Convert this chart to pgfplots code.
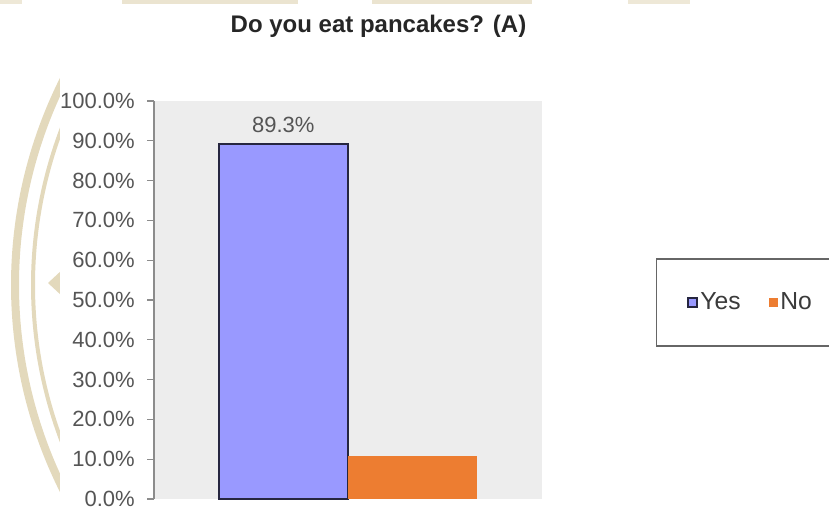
\documentclass[border=0pt]{standalone}
\usepackage{pgfplots}
\pgfplotsset{compat=1.18}
\usepackage{fontspec}
\setmainfont{Liberation Sans}

\definecolor{yesfill}{HTML}{9999FF}
\definecolor{yesedge}{HTML}{262640}
\definecolor{nofill}{HTML}{ED7D31}
\definecolor{plotbg}{HTML}{EDEDED}
\definecolor{axisgray}{HTML}{8C8C8C}
\definecolor{labelgray}{HTML}{555555}
\definecolor{legendgray}{HTML}{666666}
\definecolor{crest}{HTML}{E3D9BC}

\begin{document}
\begin{tikzpicture}
% page frame in pixel-like units (1 unit = 0.75pt, y grows downward)
\begin{scope}[x=0.75pt,y=-0.75pt]
  % faint crest of the slide background
  \draw[crest, line width=6pt] (473,285) ++(148:458) arc[start angle=148, end angle=212, radius=458];
  \draw[crest, line width=3pt] (473,285) ++(148:440) arc[start angle=148, end angle=212, radius=440];
  \fill[crest] (48,283) -- (62,270) -- (62,296) -- cycle;
  \fill[crest, opacity=0.6] (0,0) rectangle (22,4);
  \fill[crest, opacity=0.7] (122,0) rectangle (298,4);
  \fill[crest, opacity=0.7] (372,0) rectangle (532,4);
  \fill[crest, opacity=0.6] (628,0) rectangle (690,4);
  % white chart area
  \fill[white] (60,5) rectangle (829,513);
  % title
  \node[font=\bfseries\fontsize{18}{20}\selectfont, text=black!85, anchor=base, inner sep=0pt]
    at (378.5,33) {Do you eat pancakes? (A)};
\end{scope}

\begin{axis}[
  at={(115.5pt,-374.25pt)}, anchor=south west,
  width=291pt, height=298.5pt, scale only axis,
  xmin=-1.5, xmax=1.5, ymin=0, ymax=100,
  axis x line=none, axis y line*=left,
  axis background/.style={fill=plotbg},
  y axis line style={axisgray, line width=1pt},
  ytick={0,10,...,100},
  tick align=outside, major tick length=5.25pt,
  ytick style={axisgray, line width=0.9pt},
  /pgf/number format/assume math mode=true,
  yticklabel={\pgfmathprintnumber[fixed,fixed zerofill,precision=1]{\tick}\%},
  yticklabel style={anchor=east, inner sep=0pt, xshift=-9pt,
    font=\fontsize{16.5}{18}\selectfont, text=labelgray},
  legend columns=2,
  legend style={at={(1.2938,0.4937)}, anchor=west,
    draw=legendgray, line width=1pt,
    inner xsep=23pt, inner ysep=24pt,
    font=\fontsize{18.5}{20}\selectfont, text=labelgray!70!black,
    nodes={inner sep=1.5pt},
    /tikz/every even column/.append style={column sep=20pt}},
  legend image code/.code={\path[#1] (0pt,-3.4pt) rectangle (6.8pt,3.4pt);},
]
\addplot[ybar, bar width=1, bar shift=0, fill=yesfill, draw=yesedge, line width=1.5pt,
  nodes near coords={\pgfmathprintnumber[fixed,fixed zerofill,precision=1]{\pgfplotspointmeta}\%},
  nodes near coords style={anchor=south, inner sep=0pt, yshift=7.5pt,
    font=\fontsize{16.5}{18}\selectfont, text=labelgray}]
  coordinates {(-0.5,89.3)};
\addlegendentry{Yes}
\addplot[ybar, bar width=1, bar shift=0, fill=nofill, draw=none]
  coordinates {(0.5,10.7)};
\addlegendentry{No}
\end{axis}

% the page is the 829 x 513 frame; the legend box runs past its right edge
\pgfresetboundingbox
\path[use as bounding box] (0pt,0pt) rectangle (621.75pt,-384.75pt);
\end{tikzpicture}
\end{document}
